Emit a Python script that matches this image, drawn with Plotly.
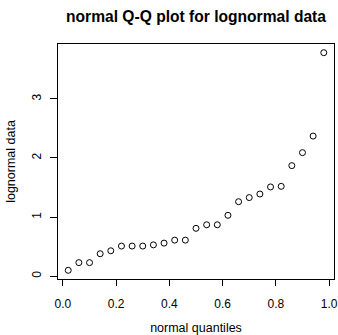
import plotly.graph_objects as go

# normal quantile positions (x) and sorted lognormal sample values (y)
x_vals = [0.02, 0.06, 0.10, 0.14, 0.18, 0.22, 0.26, 0.30, 0.34, 0.38, 0.42, 0.46, 0.50,
          0.54, 0.58, 0.62, 0.66, 0.70, 0.74, 0.78, 0.82, 0.86, 0.90, 0.94, 0.98]
y_vals = [0.10, 0.23, 0.23, 0.38, 0.43, 0.51, 0.51, 0.51, 0.53, 0.56, 0.61, 0.61, 0.81,
          0.87, 0.87, 1.03, 1.26, 1.33, 1.39, 1.51, 1.52, 1.87, 2.09, 2.37, 3.78]
x_ticks = [0.0, 0.2, 0.4, 0.6, 0.8, 1.0]
x_tick_labels = ["0.0", "0.2", "0.4", "0.6", "0.8", "1.0"]
y_ticks = [0, 1, 2, 3]
y_tick_labels = ["0", "1", "2", "3"]

FONT = "Liberation Sans, Arial, Helvetica, sans-serif"

fig = go.Figure(go.Scatter(
    x=x_vals, y=y_vals, mode="markers",
    marker=dict(symbol="circle-open", size=6, color="black", line=dict(width=1, color="black")),
    showlegend=False, hoverinfo="x+y"))

xr = (min(x_vals), max(x_vals))
yr = (min(y_vals), max(y_vals))
xpad = (xr[1] - xr[0]) * 0.04
ypad = (yr[1] - yr[0]) * 0.04

fig.update_layout(
    width=338, height=335,
    margin=dict(l=58, r=4, t=44, b=56, autoexpand=False),
    paper_bgcolor="white", plot_bgcolor="white",
    font=dict(family=FONT, size=12, color="black"),
    title=dict(text="<b>normal Q-Q plot for lognormal data</b>", xref="paper", x=0.5, xanchor="center",
               yref="container", y=1 - 17 / 335, yanchor="middle", font=dict(size=15.6, color="black")),
)
fig.update_xaxes(
    automargin=False,
    range=[xr[0] - xpad, xr[1] + xpad], tickvals=x_ticks, ticktext=x_tick_labels,
    showgrid=False, zeroline=False, showline=True, mirror=True, linecolor="black", linewidth=1,
    ticks="outside", ticklen=6, tickcolor="black", tickfont=dict(size=12),
    ticklabelstandoff=8,
    title=dict(text="normal quantiles", font=dict(size=12.5), standoff=13),
)
fig.update_yaxes(
    automargin=False,
    range=[yr[0] - ypad, yr[1] + ypad], tickvals=y_ticks, ticktext=y_tick_labels,
    showgrid=False, zeroline=False, showline=True, mirror=True, linecolor="black", linewidth=1,
    ticks="outside", ticklen=7, tickcolor="black", tickfont=dict(size=12), tickangle=-90,
    ticklabelstandoff=4,
    title=dict(text="lognormal data", font=dict(size=12.5), standoff=11),
)

fig.write_html("out.html", config={"displayModeBar": False},
               post_script="document.body.style.margin='0';")
